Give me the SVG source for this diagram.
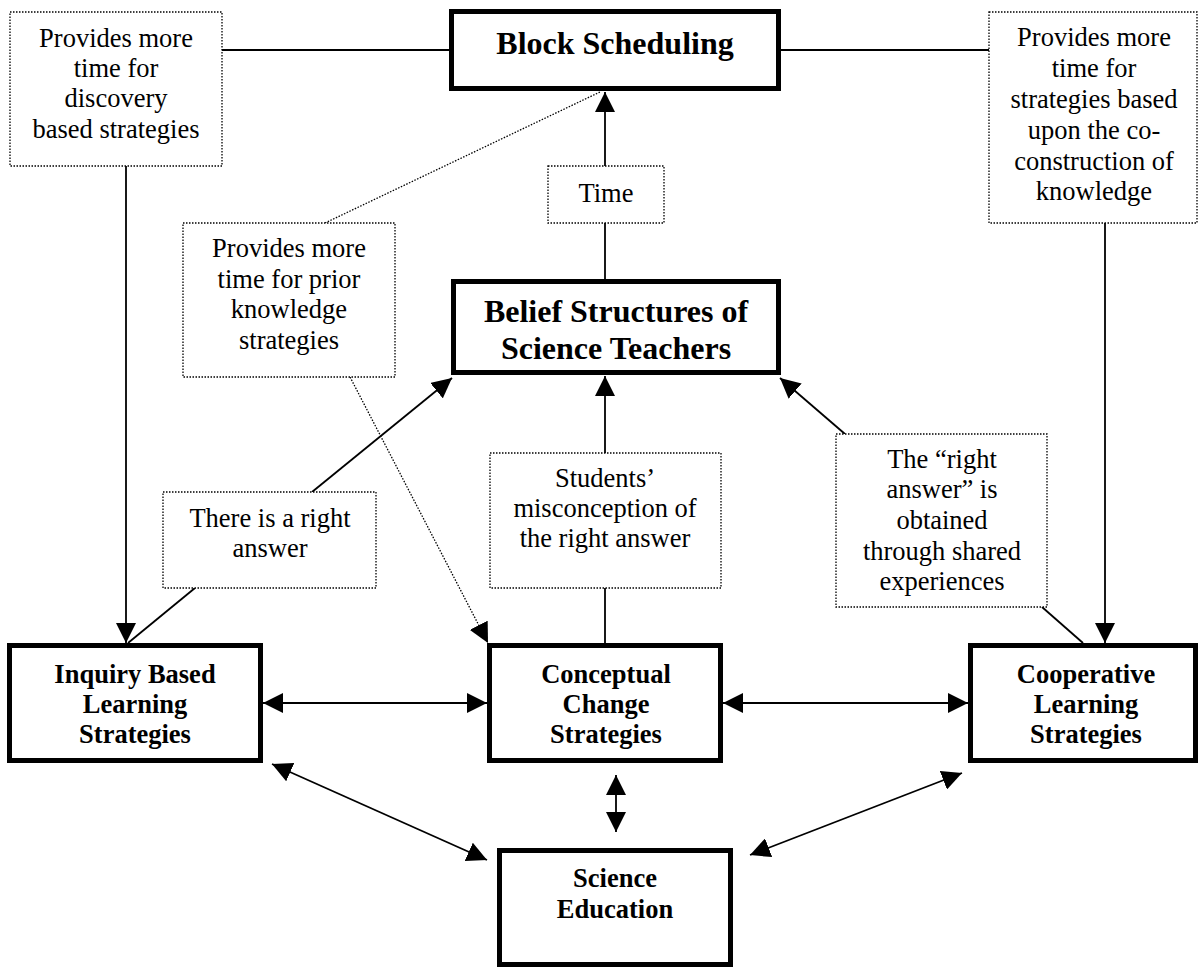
<svg xmlns="http://www.w3.org/2000/svg" width="1199" height="968" viewBox="0 0 1199 968">
<style>
.thick{fill:#fff;stroke:#000;stroke-width:5}
.dot{fill:#fff;stroke:#000;stroke-width:1.3;stroke-dasharray:1.5 1.5}
.t{font-family:"Liberation Serif","Times New Roman",serif;font-size:26.5px;fill:#000;text-anchor:middle}
.b{font-family:"Liberation Serif","Times New Roman",serif;font-size:26.5px;font-weight:bold;fill:#000;text-anchor:middle}
.bb{font-family:"Liberation Serif","Times New Roman",serif;font-size:32px;font-weight:bold;fill:#000;text-anchor:middle}
.ln{stroke:#000;stroke-width:1.8;fill:none}
.dl{stroke:#000;stroke-width:1.3;stroke-dasharray:1.5 1.5;fill:none}
</style>
<defs>
<marker id="ah" viewBox="0 0 20 20" refX="20" refY="10" markerWidth="20" markerHeight="20" markerUnits="userSpaceOnUse" orient="auto-start-reverse">
<path d="M0,0 L20,10 L0,20 z" fill="#000"/>
</marker>
</defs>
<g id="connectors">
<line class="ln" x1="222" y1="50" x2="449" y2="50"/>
<line class="ln" x1="781" y1="50" x2="989" y2="50"/>
<line class="ln" x1="126" y1="166" x2="126" y2="643" marker-end="url(#ah)"/>
<line class="ln" x1="1105" y1="223" x2="1105" y2="643" marker-end="url(#ah)"/>
<line class="ln" x1="605" y1="166" x2="605" y2="92" marker-end="url(#ah)"/>
<line class="ln" x1="605" y1="223" x2="605" y2="279"/>
<line class="dl" x1="325" y1="223" x2="600" y2="92"/>
<line class="dl" x1="350" y1="377" x2="488" y2="643" marker-end="url(#ah)"/>
<line class="ln" x1="312" y1="492" x2="452" y2="378" marker-end="url(#ah)"/>
<line class="ln" x1="195" y1="588" x2="128" y2="643"/>
<line class="ln" x1="605" y1="453" x2="605" y2="376" marker-end="url(#ah)"/>
<line class="ln" x1="605" y1="588" x2="605" y2="643"/>
<line class="ln" x1="845" y1="434" x2="780" y2="378" marker-end="url(#ah)"/>
<line class="ln" x1="1042" y1="607" x2="1083" y2="643"/>
<line class="ln" x1="263" y1="703" x2="487" y2="703" marker-start="url(#ah)" marker-end="url(#ah)"/>
<line class="ln" x1="723" y1="703" x2="968" y2="703" marker-start="url(#ah)" marker-end="url(#ah)"/>
<line class="ln" x1="272" y1="764" x2="487" y2="860" marker-start="url(#ah)" marker-end="url(#ah)"/>
<line class="ln" x1="616" y1="775" x2="616" y2="832" marker-start="url(#ah)" marker-end="url(#ah)"/>
<line class="ln" x1="962" y1="773" x2="750" y2="855" marker-start="url(#ah)" marker-end="url(#ah)"/>
</g>
<g id="block-scheduling">
<rect class="thick" x="451.5" y="11.5" width="327" height="77"/>
<text class="bb" x="615" y="54">Block Scheduling</text>
</g>
<g id="belief-structures">
<rect class="thick" x="453.5" y="281.5" width="325" height="91"/>
<text class="bb" x="616" y="322">Belief Structures of</text>
<text class="bb" x="616" y="359">Science Teachers</text>
</g>
<g id="label-discovery">
<rect class="dot" x="10" y="12" width="212" height="154"/>
<text class="t" x="116" y="47">Provides more</text>
<text class="t" x="116" y="77">time for</text>
<text class="t" x="116" y="107">discovery</text>
<text class="t" x="116" y="138">based strategies</text>
</g>
<g id="label-coconstruction">
<rect class="dot" x="989" y="12" width="208" height="211"/>
<text class="t" x="1094" y="46">Provides more</text>
<text class="t" x="1094" y="77">time for</text>
<text class="t" x="1094" y="108">strategies based</text>
<text class="t" x="1094" y="139">upon the co-</text>
<text class="t" x="1094" y="170">construction of</text>
<text class="t" x="1094" y="200">knowledge</text>
</g>
<g id="label-time">
<rect class="dot" x="548" y="166" width="116" height="57"/>
<text class="t" x="606" y="202">Time</text>
</g>
<g id="label-prior">
<rect class="dot" x="183" y="223" width="212" height="154"/>
<text class="t" x="289" y="257">Provides more</text>
<text class="t" x="289" y="288">time for prior</text>
<text class="t" x="289" y="318">knowledge</text>
<text class="t" x="289" y="349">strategies</text>
</g>
<g id="label-right-answer">
<rect class="dot" x="163" y="492" width="213" height="96"/>
<text class="t" x="270" y="527">There is a right</text>
<text class="t" x="270" y="557">answer</text>
</g>
<g id="label-misconception">
<rect class="dot" x="490" y="453" width="231" height="135"/>
<text class="t" x="605" y="487">Students’</text>
<text class="t" x="605" y="517">misconception of</text>
<text class="t" x="605" y="547">the right answer</text>
</g>
<g id="label-shared">
<rect class="dot" x="836" y="434" width="211" height="173"/>
<text class="t" x="942" y="468">The “right</text>
<text class="t" x="942" y="498">answer” is</text>
<text class="t" x="942" y="529">obtained</text>
<text class="t" x="942" y="560">through shared</text>
<text class="t" x="942" y="590">experiences</text>
</g>
<g id="inquiry">
<rect class="thick" x="9.5" y="645.5" width="251" height="115"/>
<text class="b" x="135" y="683">Inquiry Based</text>
<text class="b" x="135" y="713">Learning</text>
<text class="b" x="135" y="743">Strategies</text>
</g>
<g id="conceptual">
<rect class="thick" x="489.5" y="645.5" width="231" height="115"/>
<text class="b" x="606" y="683">Conceptual</text>
<text class="b" x="606" y="713">Change</text>
<text class="b" x="606" y="743">Strategies</text>
</g>
<g id="cooperative">
<rect class="thick" x="970.5" y="645.5" width="225" height="115"/>
<text class="b" x="1086" y="683">Cooperative</text>
<text class="b" x="1086" y="713">Learning</text>
<text class="b" x="1086" y="743">Strategies</text>
</g>
<g id="science-education">
<rect class="thick" x="499.5" y="850.5" width="231" height="114"/>
<text class="b" x="615" y="887">Science</text>
<text class="b" x="615" y="918">Education</text>
</g>
</svg>
